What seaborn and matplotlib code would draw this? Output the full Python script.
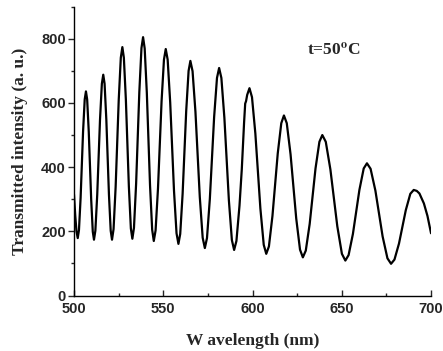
import matplotlib
matplotlib.use('Agg')
import matplotlib.pyplot as plt
import seaborn as sns
import pandas as pd
from matplotlib.ticker import MultipleLocator

# Wavelength (nm) and transmitted intensity (a.u.)
wavelength = [
    500.0, 500.7, 501.4, 502.1,
    502.79, 503.71, 504.4, 505.09, 506.01, 506.7,
    507.38, 508.28, 508.95, 509.63, 510.53, 511.2,
    511.98, 513.02, 513.8, 514.58, 515.62, 516.4,
    517.14, 518.12, 518.85, 519.59, 520.57, 521.3,
    522.17, 523.33, 524.2, 525.07, 526.23, 527.1,
    527.94, 529.06, 529.9, 530.74, 531.86, 532.7,
    533.6, 534.8, 535.7, 536.6, 537.8, 538.7,
    539.6, 540.8, 541.7, 542.6, 543.8, 544.7,
    545.71, 547.05, 548.05, 549.06, 550.4, 551.4,
    552.47, 553.89, 554.95, 556.02, 557.44, 558.5,
    559.51, 560.85, 561.85, 562.86, 564.2, 565.2,
    566.42, 568.04, 569.25, 570.47, 572.09, 573.3,
    574.5, 576.1, 577.3, 578.5, 580.1, 581.3,
    582.56, 584.24, 585.5, 586.76, 588.44, 589.7,
    590.99, 592.71, 594.0, 595.29, 595.9, 596.4, 597.01, 598.3,
    599.71, 601.59, 603.0, 604.41, 606.29, 607.7,
    609.19, 611.17, 612.65, 614.14, 616.12, 617.6,
    619.19, 621.31, 622.9, 624.49, 626.61, 628.2,
    629.84, 632.02, 633.65, 635.29, 637.47, 639.1,
    641.04, 643.62, 645.55, 647.49, 650.07, 652.0,
    653.82, 656.24, 658.05, 659.87, 662.29, 664.1,
    666.13, 668.83, 670.85, 672.88, 675.58, 677.6,
    679.51, 682.05, 683.95, 685.86, 688.4, 690.3,
    692.0, 693.5, 696.0, 698.0, 700.0,
]
intensity = [
    315, 250, 200, 179,
    204, 304, 407, 511, 611, 636,
    611, 510, 405, 300, 199, 174,
    202, 314, 431, 548, 660, 688,
    660, 548, 431, 314, 202, 174,
    207, 338, 474, 610, 741, 774,
    741, 611, 475, 340, 209, 177,
    211, 348, 491, 634, 771, 805,
    770, 632, 487, 343, 205, 170,
    203, 333, 469, 605, 735, 768,
    735, 602, 464, 327, 194, 161,
    192, 317, 446, 575, 700, 731,
    699, 572, 439, 307, 180, 148,
    179, 301, 428, 556, 678, 709,
    678, 554, 425, 297, 173, 142,
    170, 280, 394, 540, 598, 606, 625, 646,
    618, 505, 388, 271, 158, 130,
    153, 248, 345, 443, 537, 561,
    537, 440, 340, 240, 143, 119,
    140, 223, 309, 396, 479, 500,
    479, 393, 304, 216, 130, 109,
    126, 192, 260, 329, 396, 412,
    395, 327, 255, 184, 116, 99,
    112, 162, 214, 266, 317, 329,
    326, 318, 287, 248, 194,
]

df = pd.DataFrame({'Wavelength': wavelength, 'Intensity': intensity})

sns.set_style('ticks')
plt.rcParams['font.family'] = ['Liberation Sans', 'DejaVu Sans']
plt.rcParams['mathtext.fontset'] = 'stix'

fig = plt.figure(figsize=(4.43, 3.51), dpi=100)
ax = fig.add_axes([0.167, 0.158, 0.806, 0.823])

sns.lineplot(data=df, x='Wavelength', y='Intensity', color='black', linewidth=1.6, ax=ax)

ax.set_xlim(500, 700)
ax.set_ylim(0, 900)
ax.xaxis.set_major_locator(MultipleLocator(50))
ax.xaxis.set_minor_locator(MultipleLocator(25))
ax.yaxis.set_minor_locator(MultipleLocator(100))
ax.set_yticks([0, 200, 400, 600, 800])

sns.despine(ax=ax)
for s in ['left', 'bottom']:
    ax.spines[s].set_linewidth(1.0)
    ax.spines[s].set_color('black')

ax.tick_params(axis='x', which='major', direction='in', length=4, width=1, pad=5, labelsize=10.5)
ax.tick_params(axis='x', which='minor', direction='in', length=2.5, width=1)
ax.tick_params(axis='y', which='major', direction='out', length=4, width=1, pad=2, labelsize=10.5)
ax.tick_params(axis='y', which='minor', direction='out', length=2.5, width=1)
for lab in ax.get_xticklabels() + ax.get_yticklabels():
    lab.set_fontweight('bold')

ax.set_xlabel('W avelength (nm)', fontsize=12.5, fontweight='bold',
              family='Liberation Serif', labelpad=12)
ax.set_ylabel('Transmitted intensity (a. u.)', fontsize=12.5, fontweight='bold',
              family='Liberation Serif', labelpad=9)

ax.text(630.5, 763, r't=50$^{\mathbf{o}}$C', fontsize=12.5, fontweight='bold',
        family='Liberation Serif', va='center', ha='left')

fig.savefig('out.png', dpi=100)
